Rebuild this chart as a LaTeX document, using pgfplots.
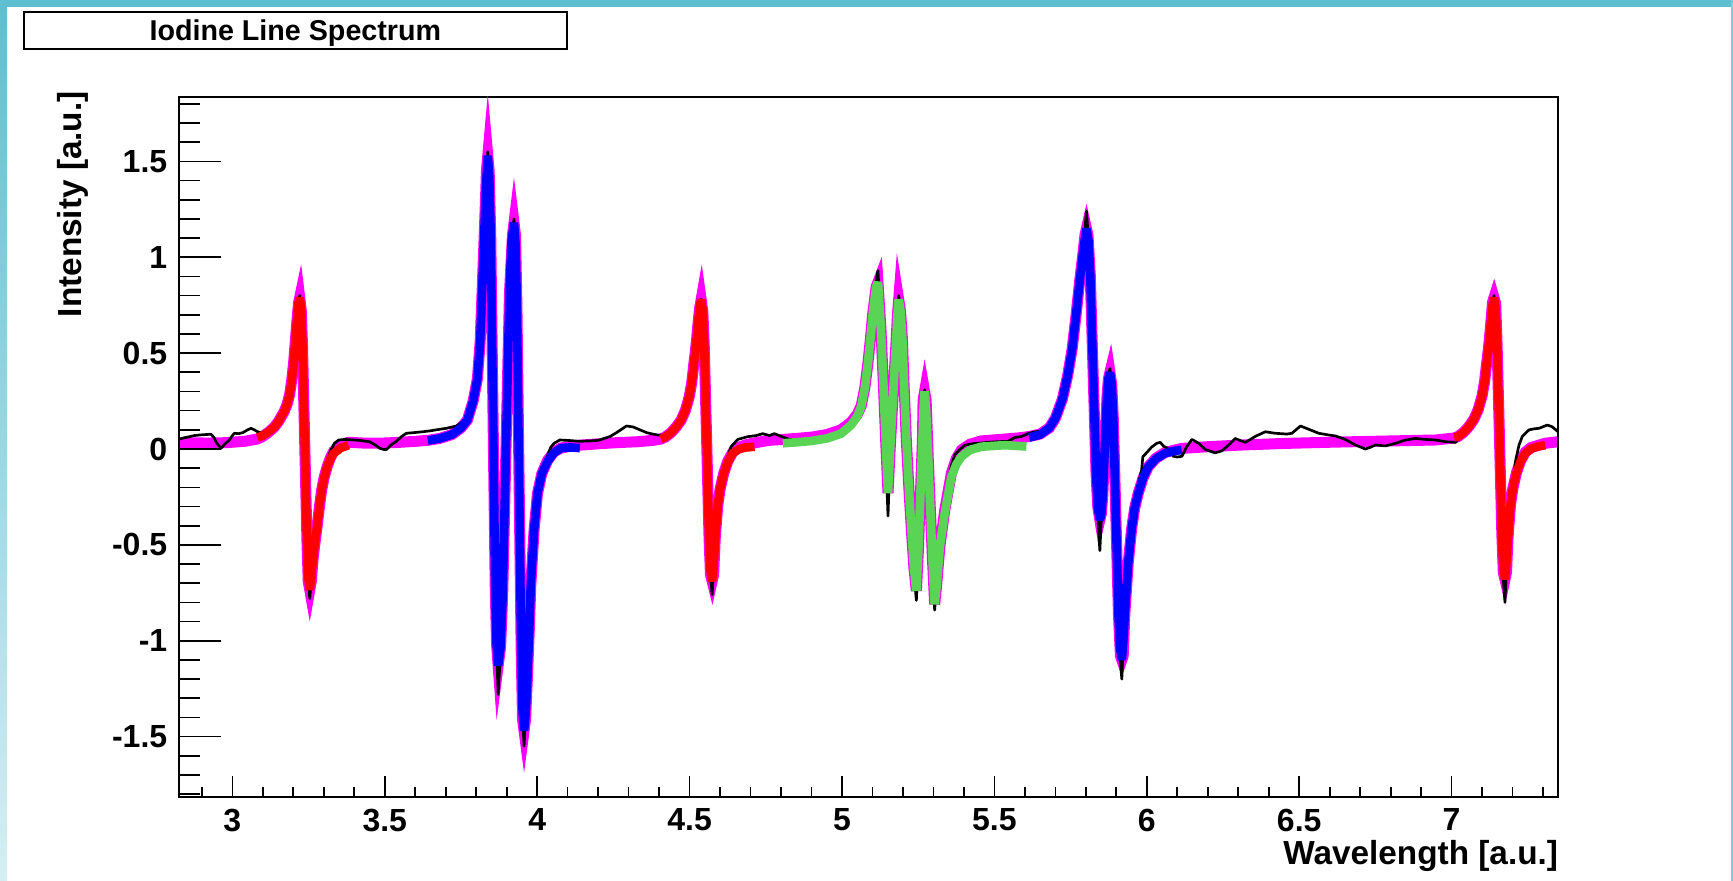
\documentclass[border=0pt]{standalone}
\usepackage{fontspec}
\setmainfont{Liberation Sans}
\usepackage{pgfplots}
\usepackage{pgfplotstable}
\pgfplotsset{compat=1.18}

\definecolor{fitmag}{RGB}{255,0,255}
\definecolor{fitred}{RGB}{255,0,0}
\definecolor{fitblue}{RGB}{0,0,255}
\definecolor{fitgreen}{RGB}{89,212,84}
\definecolor{framecyan}{RGB}{93,191,208}
\definecolor{framelight}{RGB}{214,238,243}

% total fit (magenta)
\pgfplotstableread{
x y
2.825 0.034
2.870 0.032
2.920 0.031
2.980 0.033
3.040 0.040
3.082 0.052
3.100 0.066
3.119 0.088
3.138 0.115
3.152 0.145
3.170 0.195
3.180 0.235
3.188 0.285
3.195 0.360
3.201 0.450
3.207 0.570
3.212 0.670
3.217 0.760
3.221 0.790
3.226 0.725
3.230 0.548
3.2375 0.028
3.245 -0.492
3.249 -0.690
3.254 -0.735
3.259 -0.690
3.265 -0.570
3.271 -0.490
3.278 -0.405
3.285 -0.310
3.293 -0.214
3.301 -0.150
3.311 -0.092
3.322 -0.045
3.333 -0.010
3.355 0.020
3.381 0.035
3.430 0.031
3.480 0.030
3.540 0.034
3.600 0.040
3.641 0.045
3.680 0.055
3.720 0.075
3.750 0.110
3.771 0.151
3.790 0.250
3.804 0.367
3.813 0.560
3.820 0.846
3.826 1.100
3.831 1.325
3.8335 1.450
3.838 1.530
3.8425 1.450
3.8477 1.107
3.855 0.200
3.8623 -0.707
3.8668 -1.017
3.872 -1.130
3.880 -1.032
3.8868 -0.763
3.898 0.025
3.9092 0.813
3.919 1.115
3.924 1.180
3.929 1.115
3.9334 0.759
3.9405 -0.145
3.9476 -1.049
3.952 -1.410
3.957 -1.470
3.962 -1.410
3.968 -1.190
3.974 -0.950
3.979 -0.712
3.990 -0.420
4.001 -0.233
4.015 -0.130
4.034 -0.060
4.055 -0.015
4.078 0.005
4.110 0.015
4.140 0.020
4.200 0.027
4.260 0.033
4.330 0.038
4.380 0.045
4.406 0.052
4.420 0.062
4.439 0.085
4.456 0.115
4.472 0.150
4.486 0.200
4.499 0.273
4.507 0.345
4.513 0.430
4.519 0.510
4.523 0.570
4.528 0.660
4.533 0.735
4.538 0.780
4.5435 0.718
4.548 0.546
4.556 0.045
4.5638 -0.456
4.5685 -0.655
4.574 -0.690
4.579 -0.655
4.584 -0.470
4.592 -0.300
4.600 -0.210
4.612 -0.127
4.625 -0.065
4.641 -0.018
4.660 0.008
4.685 0.022
4.713 0.032
4.760 0.045
4.806 0.050
4.850 0.055
4.900 0.062
4.950 0.075
4.997 0.100
5.030 0.140
5.050 0.180
5.063 0.225
5.075 0.320
5.085 0.447
5.093 0.570
5.101 0.708
5.112 0.845
5.118 0.870
5.128 0.620
5.136 0.330
5.144 0.020
5.151 -0.230
5.158 0.000
5.167 0.260
5.176 0.520
5.182 0.700
5.186 0.780
5.192 0.720
5.198 0.580
5.204 0.320
5.211 0.050
5.220 -0.220
5.228 -0.430
5.236 -0.620
5.244 -0.740
5.250 -0.550
5.257 -0.250
5.264 0.050
5.266 0.254
5.271 0.300
5.276 0.254
5.283 -0.050
5.290 -0.320
5.297 -0.580
5.304 -0.810
5.310 -0.720
5.321 -0.510
5.337 -0.320
5.359 -0.125
5.375 -0.050
5.392 -0.005
5.420 0.025
5.457 0.042
5.534 0.052
5.580 0.058
5.614 0.065
5.650 0.078
5.680 0.110
5.700 0.160
5.723 0.260
5.740 0.380
5.755 0.520
5.768 0.700
5.780 0.880
5.792 1.040
5.797 1.115
5.802 1.150
5.807 1.115
5.8145 0.908
5.824 0.390
5.8335 -0.128
5.8393 -0.305
5.846 -0.370
5.851 -0.337
5.8554 -0.248
5.8625 0.015
5.8696 0.278
5.874 0.367
5.879 0.400
5.885 0.336
5.890 0.162
5.8985 -0.350
5.907 -0.862
5.9135 -1.079
5.918 -1.100
5.9225 -1.079
5.928 -0.857
5.939 -0.596
5.950 -0.420
5.960 -0.310
5.972 -0.230
5.988 -0.150
6.005 -0.092
6.030 -0.048
6.060 -0.018
6.114 0.003
6.200 0.012
6.300 0.020
6.450 0.029
6.620 0.036
6.800 0.042
6.947 0.047
7.008 0.057
7.021 0.065
7.040 0.088
7.057 0.118
7.073 0.155
7.087 0.205
7.100 0.278
7.108 0.350
7.114 0.435
7.120 0.515
7.124 0.575
7.129 0.665
7.134 0.765
7.139 0.790
7.1445 0.760
7.149 0.552
7.157 0.055
7.1648 -0.446
7.1695 -0.643
7.175 -0.680
7.180 -0.643
7.185 -0.462
7.193 -0.292
7.201 -0.204
7.213 -0.122
7.226 -0.062
7.242 -0.016
7.261 0.008
7.286 0.020
7.307 0.030
7.349 0.038
}\totalfit

% measured spectrum (black)
\pgfplotstableread{
x y
2.825 0.050
2.840 0.058
2.859 0.064
2.875 0.070
2.892 0.073
2.910 0.075
2.930 0.077
2.940 0.060
2.946 0.038
2.955 0.018
2.963 0.004
2.975 0.025
2.990 0.047
3.000 0.070
3.007 0.082
3.020 0.080
3.034 0.085
3.048 0.098
3.061 0.108
3.072 0.100
3.083 0.090
3.100 0.080
3.119 0.100
3.138 0.120
3.152 0.150
3.170 0.200
3.180 0.240
3.188 0.290
3.195 0.365
3.201 0.455
3.207 0.575
3.212 0.680
3.217 0.770
3.221 0.800
3.226 0.730
3.230 0.550
3.2375 0.028
3.245 -0.500
3.249 -0.690
3.254 -0.780
3.259 -0.680
3.265 -0.570
3.271 -0.480
3.278 -0.390
3.285 -0.290
3.293 -0.190
3.301 -0.120
3.311 -0.060
3.322 -0.010
3.335 0.030
3.349 0.047
3.370 0.050
3.395 0.047
3.417 0.045
3.450 0.038
3.470 0.020
3.483 0.004
3.495 -0.002
3.505 -0.003
3.520 0.020
3.538 0.040
3.555 0.065
3.571 0.082
3.593 0.085
3.625 0.090
3.650 0.095
3.669 0.100
3.702 0.108
3.735 0.120
3.768 0.155
3.790 0.255
3.804 0.370
3.813 0.565
3.820 0.850
3.826 1.110
3.831 1.340
3.838 1.550
3.843 1.420
3.8477 1.110
3.855 0.200
3.8623 -0.720
3.8668 -1.050
3.872 -1.280
3.880 -1.060
3.8868 -0.770
3.898 0.025
3.9092 0.815
3.916 1.090
3.924 1.200
3.929 1.070
3.9334 0.760
3.9405 -0.150
3.9476 -1.070
3.952 -1.400
3.957 -1.550
3.963 -1.380
3.968 -1.190
3.974 -0.950
3.979 -0.712
3.990 -0.410
4.001 -0.220
4.015 -0.120
4.030 -0.050
4.045 0.010
4.056 0.030
4.074 0.047
4.100 0.045
4.140 0.040
4.170 0.042
4.200 0.045
4.239 0.065
4.260 0.085
4.293 0.120
4.315 0.115
4.337 0.100
4.360 0.085
4.373 0.080
4.395 0.073
4.420 0.070
4.439 0.090
4.456 0.118
4.472 0.152
4.486 0.202
4.499 0.275
4.507 0.345
4.513 0.430
4.519 0.510
4.523 0.570
4.528 0.660
4.533 0.735
4.538 0.780
4.5435 0.718
4.548 0.546
4.556 0.045
4.5638 -0.470
4.5685 -0.660
4.574 -0.760
4.579 -0.620
4.584 -0.470
4.592 -0.290
4.600 -0.190
4.612 -0.100
4.625 -0.040
4.636 0.012
4.658 0.050
4.690 0.064
4.718 0.070
4.740 0.080
4.762 0.070
4.778 0.080
4.800 0.066
4.827 0.050
4.855 0.050
4.900 0.050
4.950 0.060
4.975 0.073
4.997 0.085
5.019 0.100
5.041 0.160
5.063 0.240
5.075 0.330
5.085 0.455
5.093 0.580
5.101 0.720
5.112 0.880
5.118 0.930
5.128 0.640
5.136 0.320
5.144 -0.050
5.151 -0.350
5.158 -0.020
5.167 0.260
5.176 0.520
5.182 0.710
5.186 0.800
5.192 0.730
5.198 0.580
5.204 0.320
5.211 0.050
5.220 -0.230
5.228 -0.450
5.236 -0.650
5.244 -0.790
5.250 -0.570
5.257 -0.260
5.264 0.050
5.268 0.230
5.271 0.310
5.276 0.200
5.283 -0.060
5.290 -0.340
5.297 -0.610
5.304 -0.840
5.310 -0.720
5.321 -0.500
5.337 -0.300
5.350 -0.150
5.360 -0.080
5.370 -0.030
5.385 -0.005
5.403 0.020
5.430 0.028
5.446 0.030
5.479 0.035
5.510 0.038
5.545 0.040
5.567 0.060
5.588 0.065
5.610 0.080
5.633 0.090
5.650 0.092
5.680 0.115
5.700 0.162
5.723 0.262
5.740 0.382
5.755 0.522
5.768 0.702
5.780 0.882
5.792 1.045
5.802 1.240
5.8087 1.090
5.8145 0.910
5.824 0.390
5.8335 -0.140
5.8393 -0.350
5.846 -0.530
5.851 -0.360
5.8554 -0.250
5.8625 0.015
5.8696 0.280
5.874 0.380
5.879 0.420
5.885 0.340
5.890 0.165
5.8985 -0.350
5.907 -0.880
5.912 -1.080
5.918 -1.200
5.923 -1.020
5.928 -0.860
5.939 -0.590
5.950 -0.400
5.960 -0.280
5.972 -0.180
5.983 -0.110
5.987 -0.040
5.999 -0.020
6.016 0.010
6.033 0.030
6.044 0.035
6.055 0.015
6.071 0.000
6.087 -0.038
6.100 -0.042
6.115 -0.038
6.131 0.012
6.148 0.050
6.170 0.030
6.192 -0.003
6.224 -0.020
6.246 -0.010
6.268 0.020
6.290 0.055
6.305 0.045
6.323 0.035
6.340 0.050
6.356 0.066
6.389 0.090
6.421 0.082
6.460 0.078
6.476 0.082
6.504 0.120
6.531 0.103
6.564 0.082
6.597 0.073
6.619 0.068
6.651 0.050
6.684 0.021
6.717 0.000
6.735 0.010
6.750 0.021
6.783 0.016
6.816 0.030
6.849 0.047
6.881 0.055
6.914 0.050
6.947 0.047
6.980 0.038
7.013 0.035
7.040 0.090
7.057 0.120
7.073 0.157
7.087 0.207
7.100 0.280
7.108 0.352
7.114 0.437
7.120 0.517
7.124 0.577
7.129 0.667
7.134 0.747
7.139 0.800
7.1445 0.730
7.149 0.555
7.157 0.055
7.1648 -0.470
7.1695 -0.680
7.175 -0.800
7.180 -0.600
7.190 -0.400
7.200 -0.200
7.210 -0.060
7.221 0.020
7.232 0.066
7.254 0.100
7.270 0.105
7.287 0.108
7.314 0.125
7.330 0.116
7.349 0.090
}\spectrum

% single-line fits (red)
\pgfplotstableread{
x y
3.082 0.060
3.100 0.070
3.119 0.090
3.138 0.115
3.152 0.145
3.170 0.195
3.180 0.235
3.188 0.285
3.195 0.360
3.201 0.450
3.207 0.570
3.212 0.670
3.217 0.760
3.221 0.790
3.226 0.725
3.230 0.548
3.2375 0.028
3.245 -0.492
3.249 -0.670
3.254 -0.735
3.259 -0.665
3.265 -0.570
3.271 -0.490
3.278 -0.405
3.285 -0.310
3.293 -0.214
3.301 -0.150
3.311 -0.092
3.322 -0.050
3.333 -0.023
3.355 0.005
3.381 0.020
}\redA
\pgfplotstableread{
x y
4.406 0.052
4.420 0.062
4.439 0.085
4.456 0.115
4.472 0.150
4.486 0.200
4.499 0.273
4.507 0.345
4.513 0.430
4.519 0.510
4.523 0.570
4.528 0.660
4.533 0.735
4.538 0.780
4.5435 0.718
4.548 0.546
4.556 0.045
4.5638 -0.456
4.5685 -0.628
4.574 -0.690
4.579 -0.600
4.584 -0.470
4.592 -0.300
4.600 -0.210
4.612 -0.127
4.625 -0.070
4.641 -0.023
4.660 -0.002
4.685 0.008
4.713 0.012
}\redB
\pgfplotstableread{
x y
7.008 0.060
7.021 0.065
7.040 0.088
7.057 0.118
7.073 0.155
7.087 0.205
7.100 0.278
7.108 0.350
7.114 0.435
7.120 0.515
7.124 0.575
7.129 0.665
7.134 0.745
7.139 0.790
7.1445 0.725
7.149 0.552
7.157 0.055
7.1648 -0.446
7.1695 -0.618
7.175 -0.680
7.180 -0.590
7.185 -0.462
7.193 -0.292
7.201 -0.204
7.213 -0.122
7.226 -0.066
7.242 -0.022
7.261 0.002
7.286 0.014
7.307 0.020
}\redC

% doublet fits (blue)
\pgfplotstableread{
x y
3.641 0.044
3.680 0.055
3.720 0.075
3.750 0.110
3.771 0.151
3.790 0.250
3.804 0.367
3.813 0.560
3.820 0.846
3.826 1.100
3.831 1.325
3.838 1.530
3.843 1.417
3.8477 1.107
3.855 0.200
3.8623 -0.707
3.8668 -1.017
3.872 -1.130
3.880 -1.032
3.8868 -0.763
3.898 0.025
3.9092 0.813
3.916 1.082
3.924 1.180
3.929 1.067
3.9334 0.759
3.9405 -0.145
3.9476 -1.049
3.952 -1.357
3.957 -1.470
3.963 -1.360
3.968 -1.190
3.974 -0.950
3.979 -0.712
3.990 -0.420
4.001 -0.233
4.015 -0.130
4.034 -0.065
4.055 -0.020
4.078 0.005
4.110 0.008
4.140 0.005
}\blueA
\pgfplotstableread{
x y
5.614 0.060
5.650 0.075
5.680 0.110
5.700 0.160
5.723 0.260
5.740 0.380
5.755 0.520
5.768 0.700
5.780 0.880
5.792 1.040
5.802 1.150
5.8087 1.085
5.8145 0.908
5.824 0.390
5.8335 -0.128
5.8393 -0.305
5.846 -0.370
5.851 -0.337
5.8554 -0.248
5.8625 0.015
5.8696 0.278
5.874 0.367
5.879 0.400
5.885 0.336
5.890 0.162
5.8985 -0.350
5.907 -0.862
5.912 -1.036
5.918 -1.100
5.923 -1.000
5.928 -0.857
5.939 -0.596
5.950 -0.420
5.960 -0.310
5.972 -0.230
5.988 -0.150
6.005 -0.092
6.030 -0.050
6.060 -0.022
6.090 -0.010
6.114 -0.005
}\blueB

% triplet fit (green)
\pgfplotstableread{
x y
4.806 0.030
4.850 0.035
4.900 0.042
4.950 0.055
4.997 0.080
5.030 0.125
5.050 0.170
5.063 0.220
5.075 0.320
5.085 0.447
5.093 0.570
5.101 0.708
5.112 0.845
5.118 0.870
5.128 0.620
5.136 0.330
5.144 0.020
5.151 -0.230
5.158 0.000
5.167 0.260
5.176 0.520
5.182 0.700
5.186 0.780
5.192 0.720
5.198 0.580
5.204 0.320
5.211 0.050
5.220 -0.220
5.228 -0.430
5.236 -0.620
5.244 -0.740
5.250 -0.550
5.257 -0.250
5.264 0.050
5.268 0.220
5.271 0.300
5.276 0.200
5.283 -0.050
5.290 -0.320
5.297 -0.580
5.304 -0.810
5.310 -0.720
5.321 -0.510
5.337 -0.335
5.359 -0.145
5.375 -0.080
5.392 -0.040
5.420 -0.005
5.457 0.012
5.534 0.020
5.605 0.013
}\greenA

\begin{document}
\begin{tikzpicture}
% page frame, 1 px = 0.3 pt
\path[use as bounding box] (0,0) rectangle (519.9pt,264.3pt);
\fill[white] (0,0) rectangle (519.9pt,264.3pt);
\shade[top color=framecyan, bottom color=framelight] (0,0) rectangle (2.1pt,264.3pt);
\fill[framecyan] (0,262.2pt) rectangle (519.9pt,264.3pt);
\fill[framecyan!80] (519.2pt,0) rectangle (519.9pt,264.3pt);

\begin{axis}[
  at={(53.7pt,25.2pt)}, anchor=south west,
  scale only axis, width=413.7pt, height=210pt,
  xmin=2.825, xmax=7.349, ymin=-1.815, ymax=1.836,
  axis line style={line width=0.8pt},
  tick pos=left, tick align=inside,
  xtick={3,3.5,4,4.5,5,5.5,6,6.5,7},
  minor xtick={2.9,3.1,3.2,3.3,3.4,3.6,3.7,3.8,3.9,4.1,4.2,4.3,4.4,4.6,4.7,4.8,4.9,5.1,5.2,5.3,5.4,5.6,5.7,5.8,5.9,6.1,6.2,6.3,6.4,6.6,6.7,6.8,6.9,7.1,7.2,7.3},
  ytick=\empty,
  major tick length=6.3pt, minor tick length=3pt,
  tick style={line width=0.5pt, black},
  xticklabel style={font=\fontsize{9.6}{11}\selectfont\bfseries},
  /pgf/number format/assume math mode=true,
]
\addplot[no markers, fitmag, line width=3.3pt, line join=miter, miter limit=12] table {\totalfit};
\addplot[no markers, black, line width=0.8pt, line join=round] table {\spectrum};
\addplot[no markers, fitred, line width=2.6pt, line join=bevel] table {\redA};
\addplot[no markers, fitred, line width=2.6pt, line join=bevel] table {\redB};
\addplot[no markers, fitred, line width=2.6pt, line join=bevel] table {\redC};
\addplot[no markers, fitblue, line width=2.6pt, line join=bevel] table {\blueA};
\addplot[no markers, fitblue, line width=2.6pt, line join=bevel] table {\blueB};
\addplot[no markers, fitgreen, line width=2.6pt, line join=bevel] table {\greenA};
\end{axis}

% y axis ticks are longer than the x ones
\begin{axis}[
  at={(53.7pt,25.2pt)}, anchor=south west,
  scale only axis, width=413.7pt, height=210pt,
  xmin=2.825, xmax=7.349, ymin=-1.815, ymax=1.836,
  hide x axis,
  axis line style={line width=0.8pt},
  tick pos=left, tick align=inside,
  ytick={-1.5,-1,-0.5,0,0.5,1,1.5},
  minor ytick={-1.8,-1.7,-1.6,-1.4,-1.3,-1.2,-1.1,-0.9,-0.8,-0.7,-0.6,-0.4,-0.3,-0.2,-0.1,0.1,0.2,0.3,0.4,0.6,0.7,0.8,0.9,1.1,1.2,1.3,1.4,1.6,1.7,1.8},
  major tick length=12.6pt, minor tick length=6.3pt,
  tick style={line width=0.5pt, black},
  yticklabel style={font=\fontsize{9.6}{11}\selectfont\bfseries},
  /pgf/number format/assume math mode=true,
]
\end{axis}

% labels and title box
\node[rotate=90, anchor=base east, inner sep=0, font=\fontsize{10}{12}\selectfont\bfseries]
  at (24.3pt,237.1pt) {Intensity [a.u.]};
\node[anchor=base east, inner sep=0, font=\fontsize{10}{12}\selectfont\bfseries]
  at (467.6pt,4.8pt) {Wavelength [a.u.]};
\draw[line width=0.6pt, fill=white] (7.05pt,249.45pt) rectangle (170.1pt,260.7pt);
\node[anchor=base, inner sep=0, font=\fontsize{8.6}{10}\selectfont\bfseries]
  at (88.6pt,252.1pt) {Iodine Line Spectrum};
\end{tikzpicture}
\end{document}
